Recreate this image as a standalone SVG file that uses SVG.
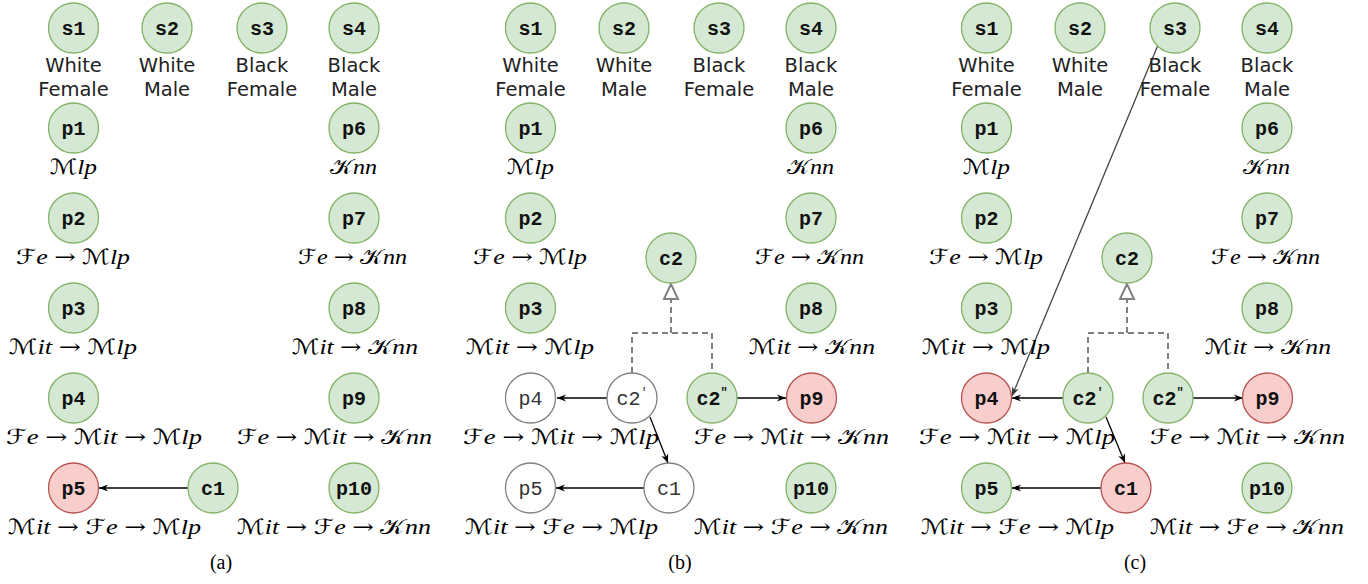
<svg xmlns="http://www.w3.org/2000/svg" width="1368" height="584" viewBox="0 0 1368 584">
<style>
.g{fill:#d5e8d4;stroke:#82b366;stroke-width:1.3}
.r{fill:#f8cecc;stroke:#b85450;stroke-width:1.3}
.w{fill:#fff;stroke:#808080;stroke-width:1.3}
.id{font-family:"Liberation Mono",monospace;font-weight:bold;font-size:20px;text-anchor:middle;fill:#111}
.wt{font-weight:normal;fill:#333}
.lbl{font-family:"DejaVu Sans",sans-serif;font-size:19.5px;text-anchor:middle;fill:#222}
.m{font-family:"Liberation Serif",serif;font-size:21px;font-style:italic;text-anchor:middle;fill:#000}
.u{font-style:normal;font-family:"DejaVu Serif",serif}
.c{font-style:normal;font-family:"Liberation Serif","DejaVu Serif","DejaVu Sans",serif}
.cap{font-family:"Liberation Serif",serif;font-size:20px;text-anchor:middle;fill:#000}
.ar{stroke:#000;stroke-width:1.3;fill:none;marker-end:url(#ah)}
.dash{stroke:#808080;stroke-width:2;fill:none;stroke-dasharray:6 4}
</style>
<defs>
<marker id="ah" viewBox="0 0 10 10" refX="10" refY="5" markerWidth="9" markerHeight="9" markerUnits="userSpaceOnUse" orient="auto"><path d="M0,1 L10,5 L0,9 L3,5 z" fill="#000"/></marker>
<marker id="ah2" viewBox="0 0 10 10" refX="10" refY="5" markerWidth="9" markerHeight="9" markerUnits="userSpaceOnUse" orient="auto"><path d="M0,1 L10,5 L0,9 L3,5 z" fill="#333"/></marker>
</defs>

<!-- connectors -->
<g id="connectors">
<path class="ar" d="M188,488 H99"/>
<path class="dash" d="M632,373 V333 H712 V373 M671,333 V299"/>
<polygon points="671,284 664,299 678,299" fill="#fff" stroke="#808080" stroke-width="2"/>
<path class="ar" d="M607,398 H557"/>
<path class="ar" d="M644,488 H556"/>
<path class="ar" d="M737,398 H786"/>
<path class="ar" d="M650,417 L668,463"/>
<path class="dash" d="M1088,373 V333 H1168 V373 M1127,333 V299"/>
<polygon points="1127,284 1120,299 1134,299" fill="#fff" stroke="#808080" stroke-width="2"/>
<path class="ar" d="M1063,398 H1012"/>
<path class="ar" d="M1101,488 H1012"/>
<path class="ar" d="M1193,398 H1243"/>
<path class="ar" d="M1106,417 L1125,463"/>
<path d="M1158,45 L1012,396" stroke="#444" stroke-width="1.3" fill="none" marker-end="url(#ah2)"/>
</g>

<!-- ===== panel a ===== -->
<g id="a-s1"><circle class="g" cx="73.5" cy="28" r="25"/><text class="id" x="73.5" y="35">s1</text><text class="lbl" x="73.5" y="72">White</text><text class="lbl" x="73.5" y="96">Female</text></g>
<g id="a-s2"><circle class="g" cx="167" cy="28" r="25"/><text class="id" x="167" y="35">s2</text><text class="lbl" x="167" y="72">White</text><text class="lbl" x="167" y="96">Male</text></g>
<g id="a-s3"><circle class="g" cx="262" cy="28" r="25"/><text class="id" x="262" y="35">s3</text><text class="lbl" x="262" y="72">Black</text><text class="lbl" x="262" y="96">Female</text></g>
<g id="a-s4"><circle class="g" cx="354" cy="28" r="25"/><text class="id" x="354" y="35">s4</text><text class="lbl" x="354" y="72">Black</text><text class="lbl" x="354" y="96">Male</text></g>
<g id="a-p1"><circle class="g" cx="73.5" cy="128" r="25"/><text class="id" x="73.5" y="135">p1</text><text class="m" x="73.5" y="174" textLength="47" lengthAdjust="spacingAndGlyphs"><tspan class="c">ℳ</tspan>lp</text></g>
<g id="a-p2"><circle class="g" cx="73.5" cy="218" r="25"/><text class="id" x="73.5" y="225">p2</text><text class="m" x="73" y="264" textLength="114" lengthAdjust="spacingAndGlyphs"><tspan class="c">ℱ</tspan>e <tspan class="u">→</tspan> <tspan class="c">ℳ</tspan>lp</text></g>
<g id="a-p3"><circle class="g" cx="73.5" cy="308" r="25"/><text class="id" x="73.5" y="315">p3</text><text class="m" x="73" y="354" textLength="128" lengthAdjust="spacingAndGlyphs"><tspan class="c">ℳ</tspan>it <tspan class="u">→</tspan> <tspan class="c">ℳ</tspan>lp</text></g>
<g id="a-p4"><circle class="g" cx="73.5" cy="398" r="25"/><text class="id" x="73.5" y="405">p4</text><text class="m" x="104" y="444" textLength="196" lengthAdjust="spacingAndGlyphs"><tspan class="c">ℱ</tspan>e <tspan class="u">→</tspan> <tspan class="c">ℳ</tspan>it <tspan class="u">→</tspan> <tspan class="c">ℳ</tspan>lp</text></g>
<g id="a-p5"><circle class="r" cx="73.5" cy="488" r="25"/><text class="id" x="73.5" y="495">p5</text><text class="m" x="104.5" y="534" textLength="193" lengthAdjust="spacingAndGlyphs"><tspan class="c">ℳ</tspan>it <tspan class="u">→</tspan> <tspan class="c">ℱ</tspan>e <tspan class="u">→</tspan> <tspan class="c">ℳ</tspan>lp</text></g>
<g id="a-p6"><circle class="g" cx="354" cy="128" r="25"/><text class="id" x="354" y="135">p6</text><text class="m" x="353.5" y="174" textLength="47" lengthAdjust="spacingAndGlyphs"><tspan class="c">𝒦</tspan>nn</text></g>
<g id="a-p7"><circle class="g" cx="354" cy="218" r="25"/><text class="id" x="354" y="225">p7</text><text class="m" x="352.5" y="264" textLength="109" lengthAdjust="spacingAndGlyphs"><tspan class="c">ℱ</tspan>e <tspan class="u">→</tspan> <tspan class="c">𝒦</tspan>nn</text></g>
<g id="a-p8"><circle class="g" cx="354" cy="308" r="25"/><text class="id" x="354" y="315">p8</text><text class="m" x="355" y="354" textLength="126" lengthAdjust="spacingAndGlyphs"><tspan class="c">ℳ</tspan>it <tspan class="u">→</tspan> <tspan class="c">𝒦</tspan>nn</text></g>
<g id="a-p9"><circle class="g" cx="354" cy="398" r="25"/><text class="id" x="354" y="405">p9</text><text class="m" x="334.5" y="444" textLength="195" lengthAdjust="spacingAndGlyphs"><tspan class="c">ℱ</tspan>e <tspan class="u">→</tspan> <tspan class="c">ℳ</tspan>it <tspan class="u">→</tspan> <tspan class="c">𝒦</tspan>nn</text></g>
<g id="a-p10"><circle class="g" cx="354" cy="488" r="25"/><text class="id" x="354" y="495">p10</text><text class="m" x="334" y="534" textLength="194" lengthAdjust="spacingAndGlyphs"><tspan class="c">ℳ</tspan>it <tspan class="u">→</tspan> <tspan class="c">ℱ</tspan>e <tspan class="u">→</tspan> <tspan class="c">𝒦</tspan>nn</text></g>
<g id="a-c1"><circle class="g" cx="213" cy="488" r="25"/><text class="id" x="213" y="495">c1</text></g>
<text class="cap" x="221" y="569">(a)</text>

<!-- ===== panel b ===== -->
<g id="b-s1"><circle class="g" cx="530.5" cy="28" r="25"/><text class="id" x="530.5" y="35">s1</text><text class="lbl" x="530.5" y="72">White</text><text class="lbl" x="530.5" y="96">Female</text></g>
<g id="b-s2"><circle class="g" cx="624" cy="28" r="25"/><text class="id" x="624" y="35">s2</text><text class="lbl" x="624" y="72">White</text><text class="lbl" x="624" y="96">Male</text></g>
<g id="b-s3"><circle class="g" cx="719" cy="28" r="25"/><text class="id" x="719" y="35">s3</text><text class="lbl" x="719" y="72">Black</text><text class="lbl" x="719" y="96">Female</text></g>
<g id="b-s4"><circle class="g" cx="811" cy="28" r="25"/><text class="id" x="811" y="35">s4</text><text class="lbl" x="811" y="72">Black</text><text class="lbl" x="811" y="96">Male</text></g>
<g id="b-p1"><circle class="g" cx="530.5" cy="128" r="25"/><text class="id" x="530.5" y="135">p1</text><text class="m" x="530.5" y="174" textLength="47" lengthAdjust="spacingAndGlyphs"><tspan class="c">ℳ</tspan>lp</text></g>
<g id="b-p2"><circle class="g" cx="530.5" cy="218" r="25"/><text class="id" x="530.5" y="225">p2</text><text class="m" x="530" y="264" textLength="114" lengthAdjust="spacingAndGlyphs"><tspan class="c">ℱ</tspan>e <tspan class="u">→</tspan> <tspan class="c">ℳ</tspan>lp</text></g>
<g id="b-p3"><circle class="g" cx="530.5" cy="308" r="25"/><text class="id" x="530.5" y="315">p3</text><text class="m" x="530" y="354" textLength="128" lengthAdjust="spacingAndGlyphs"><tspan class="c">ℳ</tspan>it <tspan class="u">→</tspan> <tspan class="c">ℳ</tspan>lp</text></g>
<g id="b-p4"><circle class="w" cx="530.5" cy="398" r="25"/><text class="id wt" x="530.5" y="405">p4</text><text class="m" x="561" y="444" textLength="196" lengthAdjust="spacingAndGlyphs"><tspan class="c">ℱ</tspan>e <tspan class="u">→</tspan> <tspan class="c">ℳ</tspan>it <tspan class="u">→</tspan> <tspan class="c">ℳ</tspan>lp</text></g>
<g id="b-p5"><circle class="w" cx="530.5" cy="488" r="25"/><text class="id wt" x="530.5" y="495">p5</text><text class="m" x="561.5" y="534" textLength="193" lengthAdjust="spacingAndGlyphs"><tspan class="c">ℳ</tspan>it <tspan class="u">→</tspan> <tspan class="c">ℱ</tspan>e <tspan class="u">→</tspan> <tspan class="c">ℳ</tspan>lp</text></g>
<g id="b-p6"><circle class="g" cx="811" cy="128" r="25"/><text class="id" x="811" y="135">p6</text><text class="m" x="810.5" y="174" textLength="47" lengthAdjust="spacingAndGlyphs"><tspan class="c">𝒦</tspan>nn</text></g>
<g id="b-p7"><circle class="g" cx="811" cy="218" r="25"/><text class="id" x="811" y="225">p7</text><text class="m" x="809.5" y="264" textLength="109" lengthAdjust="spacingAndGlyphs"><tspan class="c">ℱ</tspan>e <tspan class="u">→</tspan> <tspan class="c">𝒦</tspan>nn</text></g>
<g id="b-p8"><circle class="g" cx="811" cy="308" r="25"/><text class="id" x="811" y="315">p8</text><text class="m" x="812" y="354" textLength="126" lengthAdjust="spacingAndGlyphs"><tspan class="c">ℳ</tspan>it <tspan class="u">→</tspan> <tspan class="c">𝒦</tspan>nn</text></g>
<g id="b-p9"><circle class="r" cx="811.5" cy="398" r="25"/><text class="id" x="811.5" y="405">p9</text><text class="m" x="791.5" y="444" textLength="195" lengthAdjust="spacingAndGlyphs"><tspan class="c">ℱ</tspan>e <tspan class="u">→</tspan> <tspan class="c">ℳ</tspan>it <tspan class="u">→</tspan> <tspan class="c">𝒦</tspan>nn</text></g>
<g id="b-p10"><circle class="g" cx="811" cy="488" r="25"/><text class="id" x="811" y="495">p10</text><text class="m" x="791" y="534" textLength="194" lengthAdjust="spacingAndGlyphs"><tspan class="c">ℳ</tspan>it <tspan class="u">→</tspan> <tspan class="c">ℱ</tspan>e <tspan class="u">→</tspan> <tspan class="c">𝒦</tspan>nn</text></g>
<g id="b-c2"><circle class="g" cx="671" cy="258" r="25"/><text class="id" x="671" y="265">c2</text></g>
<g id="b-c2p"><circle class="w" cx="632" cy="398" r="25"/><text class="id wt" x="632" y="405">c2<tspan dy="-9" font-size="12">′</tspan></text></g>
<g id="b-c2pp"><circle class="g" cx="712" cy="398" r="25"/><text class="id" x="712" y="405">c2<tspan dy="-9" font-size="12">″</tspan></text></g>
<g id="b-c1"><circle class="w" cx="669" cy="488" r="25"/><text class="id wt" x="669" y="495">c1</text></g>
<text class="cap" x="680" y="569">(b)</text>

<!-- ===== panel c ===== -->
<g id="c-s1"><circle class="g" cx="986.5" cy="28" r="25"/><text class="id" x="986.5" y="35">s1</text><text class="lbl" x="986.5" y="72">White</text><text class="lbl" x="986.5" y="96">Female</text></g>
<g id="c-s2"><circle class="g" cx="1080" cy="28" r="25"/><text class="id" x="1080" y="35">s2</text><text class="lbl" x="1080" y="72">White</text><text class="lbl" x="1080" y="96">Male</text></g>
<g id="c-s3"><circle class="g" cx="1175" cy="28" r="25"/><text class="id" x="1175" y="35">s3</text><text class="lbl" x="1175" y="72">Black</text><text class="lbl" x="1175" y="96">Female</text></g>
<g id="c-s4"><circle class="g" cx="1267" cy="28" r="25"/><text class="id" x="1267" y="35">s4</text><text class="lbl" x="1267" y="72">Black</text><text class="lbl" x="1267" y="96">Male</text></g>
<g id="c-p1"><circle class="g" cx="986.5" cy="128" r="25"/><text class="id" x="986.5" y="135">p1</text><text class="m" x="986.5" y="174" textLength="47" lengthAdjust="spacingAndGlyphs"><tspan class="c">ℳ</tspan>lp</text></g>
<g id="c-p2"><circle class="g" cx="986.5" cy="218" r="25"/><text class="id" x="986.5" y="225">p2</text><text class="m" x="986" y="264" textLength="114" lengthAdjust="spacingAndGlyphs"><tspan class="c">ℱ</tspan>e <tspan class="u">→</tspan> <tspan class="c">ℳ</tspan>lp</text></g>
<g id="c-p3"><circle class="g" cx="986.5" cy="308" r="25"/><text class="id" x="986.5" y="315">p3</text><text class="m" x="986" y="354" textLength="128" lengthAdjust="spacingAndGlyphs"><tspan class="c">ℳ</tspan>it <tspan class="u">→</tspan> <tspan class="c">ℳ</tspan>lp</text></g>
<g id="c-p4"><circle class="r" cx="986.5" cy="398" r="25"/><text class="id" x="986.5" y="405">p4</text><text class="m" x="1017" y="444" textLength="196" lengthAdjust="spacingAndGlyphs"><tspan class="c">ℱ</tspan>e <tspan class="u">→</tspan> <tspan class="c">ℳ</tspan>it <tspan class="u">→</tspan> <tspan class="c">ℳ</tspan>lp</text></g>
<g id="c-p5"><circle class="g" cx="986.5" cy="488" r="25"/><text class="id" x="986.5" y="495">p5</text><text class="m" x="1017.5" y="534" textLength="193" lengthAdjust="spacingAndGlyphs"><tspan class="c">ℳ</tspan>it <tspan class="u">→</tspan> <tspan class="c">ℱ</tspan>e <tspan class="u">→</tspan> <tspan class="c">ℳ</tspan>lp</text></g>
<g id="c-p6"><circle class="g" cx="1267" cy="128" r="25"/><text class="id" x="1267" y="135">p6</text><text class="m" x="1266.5" y="174" textLength="47" lengthAdjust="spacingAndGlyphs"><tspan class="c">𝒦</tspan>nn</text></g>
<g id="c-p7"><circle class="g" cx="1267" cy="218" r="25"/><text class="id" x="1267" y="225">p7</text><text class="m" x="1265.5" y="264" textLength="109" lengthAdjust="spacingAndGlyphs"><tspan class="c">ℱ</tspan>e <tspan class="u">→</tspan> <tspan class="c">𝒦</tspan>nn</text></g>
<g id="c-p8"><circle class="g" cx="1267" cy="308" r="25"/><text class="id" x="1267" y="315">p8</text><text class="m" x="1268" y="354" textLength="126" lengthAdjust="spacingAndGlyphs"><tspan class="c">ℳ</tspan>it <tspan class="u">→</tspan> <tspan class="c">𝒦</tspan>nn</text></g>
<g id="c-p9"><circle class="r" cx="1267.5" cy="398" r="25"/><text class="id" x="1267.5" y="405">p9</text><text class="m" x="1247.5" y="444" textLength="195" lengthAdjust="spacingAndGlyphs"><tspan class="c">ℱ</tspan>e <tspan class="u">→</tspan> <tspan class="c">ℳ</tspan>it <tspan class="u">→</tspan> <tspan class="c">𝒦</tspan>nn</text></g>
<g id="c-p10"><circle class="g" cx="1267" cy="488" r="25"/><text class="id" x="1267" y="495">p10</text><text class="m" x="1247" y="534" textLength="194" lengthAdjust="spacingAndGlyphs"><tspan class="c">ℳ</tspan>it <tspan class="u">→</tspan> <tspan class="c">ℱ</tspan>e <tspan class="u">→</tspan> <tspan class="c">𝒦</tspan>nn</text></g>
<g id="c-c2"><circle class="g" cx="1127" cy="258" r="25"/><text class="id" x="1127" y="265">c2</text></g>
<g id="c-c2p"><circle class="g" cx="1088" cy="398" r="25"/><text class="id" x="1088" y="405">c2<tspan dy="-9" font-size="12">′</tspan></text></g>
<g id="c-c2pp"><circle class="g" cx="1168" cy="398" r="25"/><text class="id" x="1168" y="405">c2<tspan dy="-9" font-size="12">″</tspan></text></g>
<g id="c-c1"><circle class="r" cx="1126" cy="488" r="25"/><text class="id" x="1126" y="495">c1</text></g>
<text class="cap" x="1135" y="569">(c)</text>
</svg>
